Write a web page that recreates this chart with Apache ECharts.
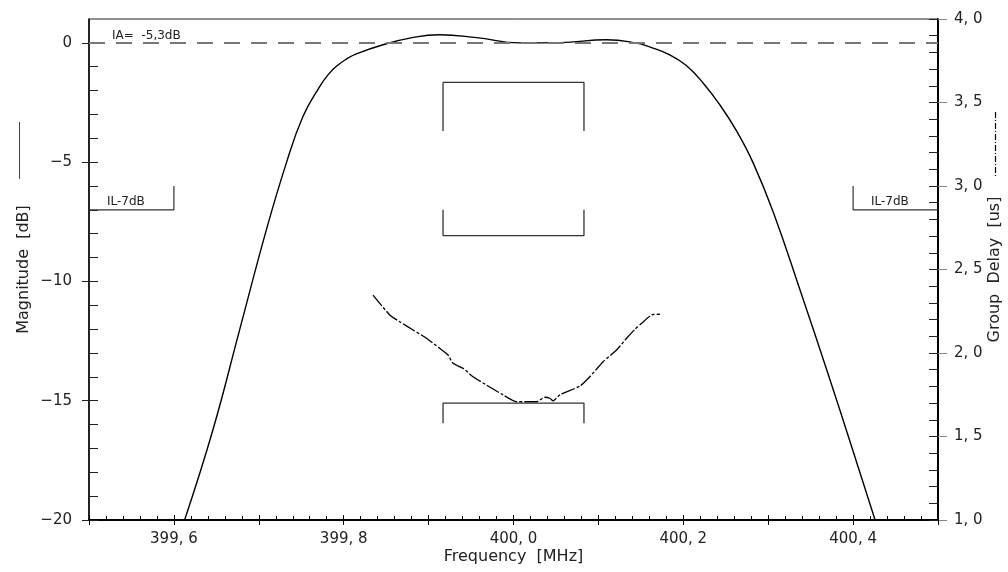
<!DOCTYPE html>
<html>
<head>
<meta charset="utf-8">
<script src="https://cdn.jsdelivr.net/npm/echarts@6/dist/echarts.min.js"></script>
<style>
  html, body { margin: 0; padding: 0; background: #fff; }
  #main { width: 1008px; height: 572px; }
</style>
</head>
<body>
<div id="main"></div>
<script>
// 幅度曲线 (MHz, dB)
const magFreq = [399.6126, 399.6459, 399.6774, 399.7089, 399.7324, 399.752, 399.7717, 399.7815, 399.7914, 399.8032,
  399.8149, 399.8463, 399.8778, 399.9131, 399.9564, 400.0074, 400.0546, 400.1096, 400.145, 400.1604,
  400.184, 400.2036, 400.2235, 400.2431, 400.2629, 400.2824, 400.306, 400.3374, 400.3689, 400.4003,
  400.4259];
const magDb = [-20, -16.23, -12.03, -7.84, -5.04, -3.09, -1.83, -1.34, -0.98, -0.68,
  -0.46, -0.08, 0.20, 0.34, 0.22, 0.0, 0.01, 0.13, -0.01, -0.17,
  -0.5, -0.95, -1.69, -2.6, -3.7, -5.04, -7.1, -10.35, -13.7, -17.15,
  -20];

// 群时延曲线 (MHz, us)
const gdFreq = [399.8345, 399.8542, 399.866, 399.8817, 399.8975, 399.9131, 399.9229, 399.9288, 399.9406, 399.9524,
  399.9682, 399.9877, 400.0035, 400.0271, 400.0369, 400.0428, 400.0467, 400.0546, 400.0782, 400.0899,
  400.1056, 400.1214, 400.1332, 400.143, 400.1509, 400.1627, 400.1725];
const gdUs = [2.347, 2.228, 2.187, 2.138, 2.088, 2.028, 1.988, 1.938, 1.908, 1.858,
  1.808, 1.749, 1.708, 1.708, 1.735, 1.729, 1.714, 1.749, 1.802, 1.858,
  1.948, 2.018, 2.088, 2.142, 2.178, 2.228, 2.232];

// 规格框
const passBand = [399.917, 400.083];
const ampUpper = [-1.66, -3.69];   // [水平线, 竖线端点]
const ampLower = [-8.08, -7.0];
const gdLower = [1.70, 1.58];
const ilLeft = [399.5, 399.6];
const ilRight = [400.5, 400.4];
const ilLevel = [-7, -6];

const xTicks = [399.5, 400.5, 0.1];
const dbTicks = [-20, 1, 5];
const gdTicks = [1, 4, 0.5];

const range = (a, b, step) => {
  const out = [];
  for (let v = a; v <= b + step / 2; v += step) out.push(Math.round(v * 1000) / 1000);
  return out;
};

const bracket = (f, lv) => [[f[0], lv[1]], [f[0], lv[0]], [f[1], lv[0]], [f[1], lv[1]]];
const ilMark = (f, lv) => [[f[0], lv[0]], [f[1], lv[0]], [f[1], lv[1]]];

const font = 'DejaVu Sans';
const ink = '#222';

const myChart = echarts.init(document.getElementById('main'));

const option = {
  animation: false,
  grid: {
    left: 89, right: 70, top: 19, bottom: 52,
    outerBoundsMode: 'none', containLabel: false,
    show: true, borderColor: '#222', borderWidth: 1
  },
  xAxis: [
    {
      type: 'value', min: xTicks[0], max: xTicks[1], interval: xTicks[2], position: 'bottom',
      name: 'Frequency  [MHz]', nameLocation: 'middle', nameGap: 29, nameMoveOverlap: false,
      nameTextStyle: { fontFamily: font, fontSize: 16, color: ink },
      axisLine: { onZero: false, lineStyle: { color: '#000', width: 2 } },
      axisTick: { inside: true, length: 5, lineStyle: { color: '#000' } },
      minorTick: { show: true, splitNumber: 5, length: 4, lineStyle: { color: '#000' } },
      splitLine: { show: false },
      axisLabel: {
        margin: 12, fontFamily: font, fontSize: 15, color: ink,
        formatter: v => {
          const k = Math.round(v * 10);
          if (k % 2) return '';
          return (k / 10).toFixed(1).replace('.', ', ');
        }
      }
    },
    {
      type: 'value', min: xTicks[0], max: xTicks[1], interval: xTicks[2], position: 'bottom',
      axisLine: { show: false, onZero: false },
      axisTick: { inside: false, length: 5, lineStyle: { color: '#000' } },
      axisLabel: { show: false }, splitLine: { show: false }
    }
  ],
  yAxis: [
    {
      type: 'value', min: dbTicks[0], max: dbTicks[1], position: 'left',
      name: 'Magnitude  [dB]', nameLocation: 'middle', nameRotate: 90, nameGap: 57, nameMoveOverlap: false,
      nameTextStyle: { fontFamily: font, fontSize: 16, color: ink },
      axisLine: { show: true, onZero: false, lineStyle: { color: '#000', width: 1.5 } },
      axisTick: { inside: true, length: 9, customValues: range(-20, 0, 1), lineStyle: { color: '#222' } },
      axisLabel: {
        margin: 17, fontFamily: font, fontSize: 15, color: ink,
        customValues: range(-20, 0, dbTicks[2]),
        formatter: v => (v < 0 ? '\u2212' + Math.abs(v) : String(v))
      },
      splitLine: { show: false }
    },
    {
      type: 'value', min: gdTicks[0], max: gdTicks[1], interval: gdTicks[2], position: 'right',
      name: 'Group  Delay  [us]', nameLocation: 'middle', nameRotate: 90, nameGap: 49, nameMoveOverlap: false,
      nameTextStyle: { fontFamily: font, fontSize: 16, color: ink },
      axisLine: { show: true, onZero: false, lineStyle: { color: '#000', width: 2 } },
      axisTick: { inside: true, length: 9, customValues: range(1, 4, 0.1), lineStyle: { color: '#222' } },
      axisLabel: {
        margin: 16, fontFamily: font, fontSize: 15, color: ink,
        formatter: v => v.toFixed(1).replace('.', ', ')
      },
      splitLine: { show: false }
    },
    {
      type: 'value', min: dbTicks[0], max: dbTicks[1], position: 'left',
      axisLine: { show: false, onZero: false },
      axisTick: { inside: false, length: 7, customValues: range(-20, 0, dbTicks[2]), lineStyle: { color: '#222' } },
      axisLabel: { show: false }, splitLine: { show: false }
    },
    {
      type: 'value', min: gdTicks[0], max: gdTicks[1], interval: gdTicks[2], position: 'right',
      axisLine: { show: false, onZero: false },
      axisTick: { inside: false, length: 9, lineStyle: { color: '#888' } },
      axisLabel: { show: false }, splitLine: { show: false }
    }
  ],
  graphic: [
    { type: 'text', left: 112, top: 30, style: { text: 'IA=  -5,3dB', font: '12px "DejaVu Sans"', fill: ink } },
    { type: 'text', left: 107, top: 196, style: { text: 'IL-7dB', font: '12px "DejaVu Sans"', fill: ink } },
    { type: 'text', left: 871, top: 196, style: { text: 'IL-7dB', font: '12px "DejaVu Sans"', fill: ink } },
    { type: 'line', shape: { x1: 19.5, y1: 122, x2: 19.5, y2: 179 }, style: { stroke: '#444', lineWidth: 1 } },
    { type: 'line', shape: { x1: 995.5, y1: 112, x2: 995.5, y2: 177 }, style: { stroke: '#000', lineWidth: 1.2, lineDash: [6, 2, 1, 2] } }
  ],
  series: [
    {
      name: 'Magnitude', type: 'line', xAxisIndex: 0, yAxisIndex: 0,
      data: magFreq.map((f, i) => [f, magDb[i]]),
      smooth: 0.45, showSymbol: false,
      lineStyle: { color: '#000', width: 1.4 },
      markLine: {
        silent: true, symbol: 'none', label: { show: false },
        lineStyle: { color: '#777', width: 2, type: [16, 11] },
        data: [{ yAxis: 0 }]
      }
    },
    {
      name: 'Group Delay', type: 'line', xAxisIndex: 0, yAxisIndex: 1,
      data: gdFreq.map((f, i) => [f, gdUs[i]]),
      smooth: 0.2, showSymbol: false,
      lineStyle: { color: '#000', width: 1.3, type: [14, 2, 3, 2] }
    },
    {
      name: 'ampUpper', type: 'line', yAxisIndex: 0, data: bracket(passBand, ampUpper),
      showSymbol: false, lineStyle: { color: '#333', width: 1.3 }
    },
    {
      name: 'ampLower', type: 'line', yAxisIndex: 0, data: bracket(passBand, ampLower),
      showSymbol: false, lineStyle: { color: '#333', width: 1.3 }
    },
    {
      name: 'gdLower', type: 'line', yAxisIndex: 1, data: bracket(passBand, gdLower),
      showSymbol: false, lineStyle: { color: '#333', width: 1.3 }
    },
    {
      name: 'ilLeft', type: 'line', yAxisIndex: 0, data: ilMark(ilLeft, ilLevel),
      showSymbol: false, lineStyle: { color: '#333', width: 1.2 }
    },
    {
      name: 'ilRight', type: 'line', yAxisIndex: 0, data: ilMark(ilRight, ilLevel),
      showSymbol: false, lineStyle: { color: '#333', width: 1.2 }
    }
  ]
};

myChart.setOption(option);
</script>
</body>
</html>
